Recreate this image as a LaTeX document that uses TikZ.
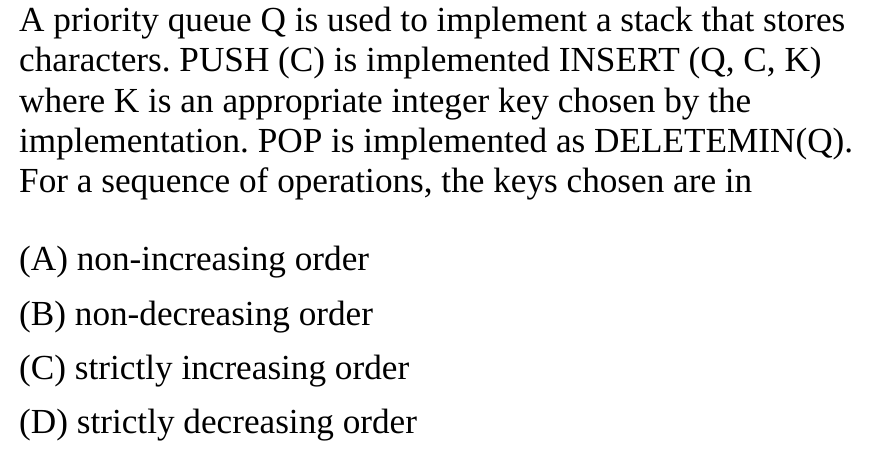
\documentclass[tikz,border=0pt]{standalone}
\usepackage{fontspec}
\setmainfont{Liberation Serif}
\frenchspacing
\tikzset{
  qline/.style={anchor=base west, inner sep=0pt, font=\fontsize{35.2}{40}\selectfont},
  optline/.style={anchor=base west, inner sep=0pt, font=\fontsize{35.2}{40}\selectfont},
}
\begin{document}
\begin{tikzpicture}[x=1pt,y=-1pt]
  \useasboundingbox[fill=white] (0,0) rectangle (887,470);
  % question
  \node[qline] (q1) at (19,31.5) {A priority queue Q is used to implement a stack that stores};
  \node[qline] (q2) at (19,72) {characters. PUSH (C) is implemented INSERT (Q, C, K)};
  \node[qline] (q3) at (19,112.3) {where K is an appropriate integer key chosen by the};
  \node[qline] (q4) at (19,152.7) {implementation. POP is implemented as DELETEMIN(Q).};
  \node[qline] (q5) at (19,193) {For a sequence of operations, the keys chosen are in};
  % options
  \node[optline] (oa) at (19,271) {(A) non-increasing order};
  \node[optline] (ob) at (19,325.5) {(B) non-decreasing order};
  \node[optline] (oc) at (19,379.5) {(C) strictly increasing order};
  \node[optline] (od) at (19,433.5) {(D) strictly decreasing order};
\end{tikzpicture}
\end{document}
